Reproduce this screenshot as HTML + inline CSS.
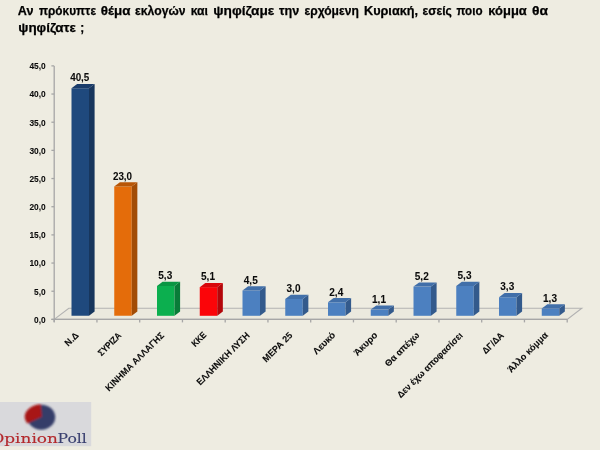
<!DOCTYPE html>
<html lang="el">
<head>
<meta charset="utf-8">
<title>OpinionPoll</title>
<style>
html,body{margin:0;padding:0;background:#EEECE1;}
body{width:600px;height:450px;overflow:hidden;position:relative;font-family:"Liberation Sans",sans-serif;}
svg{position:absolute;left:0;top:0;display:block;}
text{font-family:"Liberation Sans",sans-serif;font-weight:bold;fill:#111;}
.ttl{font-size:13.1px;fill:#000;stroke:#000;stroke-width:0.25px;}
.ax{font-size:8.9px;fill:#0a0a0a;stroke:#0a0a0a;stroke-width:0.05px;}
.val{font-size:10.6px;fill:#0a0a0a;stroke:#0a0a0a;stroke-width:0.05px;}
.cat{font-size:9.2px;fill:#0a0a0a;stroke:#0a0a0a;stroke-width:0.1px;}
.logo{font-family:"DejaVu Serif","Liberation Serif",serif;font-weight:normal;font-size:13.2px;stroke-width:0.12px;}
</style>
</head>
<body>
<svg width="600" height="450" viewBox="0 0 600 450">
<defs><filter id="soft" x="-5%" y="-5%" width="110%" height="110%"><feGaussianBlur stdDeviation="0.8"/></filter></defs>
<rect x="0" y="0" width="600" height="450" fill="#EEECE1"/>
<text class="ttl" y="14.7"><tspan x="17.8" textLength="15.7" lengthAdjust="spacingAndGlyphs">Αν</tspan> <tspan x="39" textLength="57" lengthAdjust="spacingAndGlyphs">πρόκυπτε</tspan> <tspan x="100.8" textLength="29.7" lengthAdjust="spacingAndGlyphs">θέμα</tspan> <tspan x="135" textLength="50.5" lengthAdjust="spacingAndGlyphs">εκλογών</tspan> <tspan x="190.7" textLength="17.3" lengthAdjust="spacingAndGlyphs">και</tspan> <tspan x="213.3" textLength="61" lengthAdjust="spacingAndGlyphs">ψηφίζαμε</tspan> <tspan x="279" textLength="20.3" lengthAdjust="spacingAndGlyphs">την</tspan> <tspan x="304.5" textLength="54.3" lengthAdjust="spacingAndGlyphs">ερχόμενη</tspan> <tspan x="364" textLength="54" lengthAdjust="spacingAndGlyphs">Κυριακή,</tspan> <tspan x="422.5" textLength="29.3" lengthAdjust="spacingAndGlyphs">εσείς</tspan> <tspan x="456.5" textLength="26" lengthAdjust="spacingAndGlyphs">ποιο</tspan> <tspan x="488.3" textLength="38.5" lengthAdjust="spacingAndGlyphs">κόμμα</tspan> <tspan x="532" textLength="16" lengthAdjust="spacingAndGlyphs">θα</tspan></text>
<text class="ttl" y="32.4"><tspan x="18.3" textLength="57.7" lengthAdjust="spacingAndGlyphs">ψηφίζατε</tspan> <tspan x="80.3" textLength="4" lengthAdjust="spacingAndGlyphs">;</tspan></text>
<g>
<g stroke="#A6A6A6" stroke-width="1.3" fill="none">
<path d="M54.2 319.4 L68.8 308.3 L581.8 308.3 L567.2 319.4 Z" fill="#EBE9DE" stroke="#B2B2B2" stroke-width="1.1"/>
<path d="M54.2 66 V322"/>
<path d="M51.4 319.4 H567.2"/>
<path d="M51.4 319.4 H54.2"/>
<path d="M51.4 291.23 H54.2"/>
<path d="M51.4 263.06 H54.2"/>
<path d="M51.4 234.89 H54.2"/>
<path d="M51.4 206.72 H54.2"/>
<path d="M51.4 178.55 H54.2"/>
<path d="M51.4 150.38 H54.2"/>
<path d="M51.4 122.21 H54.2"/>
<path d="M51.4 94.04 H54.2"/>
<path d="M51.4 65.87 H54.2"/>
<path d="M54.2 319.4 V322.4"/>
<path d="M96.95 319.4 V322.4"/>
<path d="M139.7 319.4 V322.4"/>
<path d="M182.45 319.4 V322.4"/>
<path d="M225.2 319.4 V322.4"/>
<path d="M267.95 319.4 V322.4"/>
<path d="M310.7 319.4 V322.4"/>
<path d="M353.45 319.4 V322.4"/>
<path d="M396.2 319.4 V322.4"/>
<path d="M438.95 319.4 V322.4"/>
<path d="M481.7 319.4 V322.4"/>
<path d="M524.45 319.4 V322.4"/>
<path d="M567.2 319.4 V322.4"/>
</g>
<path d="M71.5 88.19 H89 V315.8 H71.5 Z" fill="#1F497D"/><path d="M89 88.19 L94.6 83.99 V311.6 L89 315.8 Z" fill="#17365D"/><path d="M71.5 88.19 L77.1 83.99 H94.6 L89 88.19 Z" fill="#1A3C6A"/>
<path d="M114.25 186.54 H131.75 V315.8 H114.25 Z" fill="#E46C0A"/><path d="M131.75 186.54 L137.35 182.34 V311.6 L131.75 315.8 Z" fill="#A24C06"/><path d="M114.25 186.54 L119.85 182.34 H137.35 L131.75 186.54 Z" fill="#B85607"/>
<path d="M157 286.01 H174.5 V315.8 H157 Z" fill="#0CAF4F"/><path d="M174.5 286.01 L180.1 281.81 V311.6 L174.5 315.8 Z" fill="#087C38"/><path d="M157 286.01 L162.6 281.81 H180.1 L174.5 286.01 Z" fill="#0A9643"/>
<path d="M199.75 287.14 H217.25 V315.8 H199.75 Z" fill="#FB0509"/><path d="M217.25 287.14 L222.85 282.94 V311.6 L217.25 315.8 Z" fill="#B4060A"/><path d="M199.75 287.14 L205.35 282.94 H222.85 L217.25 287.14 Z" fill="#D8070B"/>
<path d="M242.5 290.51 H260 V315.8 H242.5 Z" fill="#4C80C0"/><path d="M260 290.51 L265.6 286.31 V311.6 L260 315.8 Z" fill="#335A8C"/><path d="M242.5 290.51 L248.1 286.31 H265.6 L260 290.51 Z" fill="#416FA9"/>
<path d="M285.25 298.94 H302.75 V315.8 H285.25 Z" fill="#4C80C0"/><path d="M302.75 298.94 L308.35 294.74 V311.6 L302.75 315.8 Z" fill="#335A8C"/><path d="M285.25 298.94 L290.85 294.74 H308.35 L302.75 298.94 Z" fill="#416FA9"/>
<path d="M328 302.31 H345.5 V315.8 H328 Z" fill="#4C80C0"/><path d="M345.5 302.31 L351.1 298.11 V311.6 L345.5 315.8 Z" fill="#335A8C"/><path d="M328 302.31 L333.6 298.11 H351.1 L345.5 302.31 Z" fill="#416FA9"/>
<path d="M370.75 309.62 H388.25 V315.8 H370.75 Z" fill="#4C80C0"/><path d="M388.25 309.62 L393.85 305.42 V311.6 L388.25 315.8 Z" fill="#335A8C"/><path d="M370.75 309.62 L376.35 305.42 H393.85 L388.25 309.62 Z" fill="#416FA9"/>
<path d="M413.5 286.58 H431 V315.8 H413.5 Z" fill="#4C80C0"/><path d="M431 286.58 L436.6 282.38 V311.6 L431 315.8 Z" fill="#335A8C"/><path d="M413.5 286.58 L419.1 282.38 H436.6 L431 286.58 Z" fill="#416FA9"/>
<path d="M456.25 286.01 H473.75 V315.8 H456.25 Z" fill="#4C80C0"/><path d="M473.75 286.01 L479.35 281.81 V311.6 L473.75 315.8 Z" fill="#335A8C"/><path d="M456.25 286.01 L461.85 281.81 H479.35 L473.75 286.01 Z" fill="#416FA9"/>
<path d="M499 297.25 H516.5 V315.8 H499 Z" fill="#4C80C0"/><path d="M516.5 297.25 L522.1 293.05 V311.6 L516.5 315.8 Z" fill="#335A8C"/><path d="M499 297.25 L504.6 293.05 H522.1 L516.5 297.25 Z" fill="#416FA9"/>
<path d="M541.75 308.49 H559.25 V315.8 H541.75 Z" fill="#4C80C0"/><path d="M559.25 308.49 L564.85 304.29 V311.6 L559.25 315.8 Z" fill="#335A8C"/><path d="M541.75 308.49 L547.35 304.29 H564.85 L559.25 308.49 Z" fill="#416FA9"/>
</g>
<text class="ax" x="45.7" y="322.8" text-anchor="end" textLength="11.6" lengthAdjust="spacingAndGlyphs">0,0</text>
<text class="ax" x="45.7" y="294.63" text-anchor="end" textLength="11.6" lengthAdjust="spacingAndGlyphs">5,0</text>
<text class="ax" x="45.7" y="266.46" text-anchor="end" textLength="16.3" lengthAdjust="spacingAndGlyphs">10,0</text>
<text class="ax" x="45.7" y="238.29" text-anchor="end" textLength="16.3" lengthAdjust="spacingAndGlyphs">15,0</text>
<text class="ax" x="45.7" y="210.12" text-anchor="end" textLength="16.3" lengthAdjust="spacingAndGlyphs">20,0</text>
<text class="ax" x="45.7" y="181.95" text-anchor="end" textLength="16.3" lengthAdjust="spacingAndGlyphs">25,0</text>
<text class="ax" x="45.7" y="153.78" text-anchor="end" textLength="16.3" lengthAdjust="spacingAndGlyphs">30,0</text>
<text class="ax" x="45.7" y="125.61" text-anchor="end" textLength="16.3" lengthAdjust="spacingAndGlyphs">35,0</text>
<text class="ax" x="45.7" y="97.44" text-anchor="end" textLength="16.3" lengthAdjust="spacingAndGlyphs">40,0</text>
<text class="ax" x="45.7" y="69.27" text-anchor="end" textLength="16.3" lengthAdjust="spacingAndGlyphs">45,0</text>
<text class="val" x="79.75" y="81.39" text-anchor="middle" textLength="19.2" lengthAdjust="spacingAndGlyphs">40,5</text>
<text class="val" x="122.5" y="179.74" text-anchor="middle" textLength="19.2" lengthAdjust="spacingAndGlyphs">23,0</text>
<text class="val" x="165.25" y="279.21" text-anchor="middle" textLength="14" lengthAdjust="spacingAndGlyphs">5,3</text>
<text class="val" x="208" y="280.34" text-anchor="middle" textLength="14" lengthAdjust="spacingAndGlyphs">5,1</text>
<text class="val" x="250.75" y="283.71" text-anchor="middle" textLength="14" lengthAdjust="spacingAndGlyphs">4,5</text>
<text class="val" x="293.5" y="292.14" text-anchor="middle" textLength="14" lengthAdjust="spacingAndGlyphs">3,0</text>
<text class="val" x="336.25" y="295.51" text-anchor="middle" textLength="14" lengthAdjust="spacingAndGlyphs">2,4</text>
<text class="val" x="379" y="302.82" text-anchor="middle" textLength="14" lengthAdjust="spacingAndGlyphs">1,1</text>
<text class="val" x="421.75" y="279.78" text-anchor="middle" textLength="14" lengthAdjust="spacingAndGlyphs">5,2</text>
<text class="val" x="464.5" y="279.21" text-anchor="middle" textLength="14" lengthAdjust="spacingAndGlyphs">5,3</text>
<text class="val" x="507.25" y="290.45" text-anchor="middle" textLength="14" lengthAdjust="spacingAndGlyphs">3,3</text>
<text class="val" x="550" y="301.69" text-anchor="middle" textLength="14" lengthAdjust="spacingAndGlyphs">1,3</text>
<text class="cat" transform="translate(79.17 336) rotate(-45)" text-anchor="end" textLength="15.3" lengthAdjust="spacingAndGlyphs">Ν.Δ</text>
<text class="cat" transform="translate(121.92 336) rotate(-45)" text-anchor="end" textLength="28.9" lengthAdjust="spacingAndGlyphs">ΣΥΡΙΖΑ</text>
<text class="cat" transform="translate(164.67 336) rotate(-45)" text-anchor="end" textLength="78.7" lengthAdjust="spacingAndGlyphs">ΚΙΝΗΜΑ ΑΛΛΑΓΗΣ</text>
<text class="cat" transform="translate(206.92 335.5) rotate(-45)" text-anchor="end" textLength="16.5" lengthAdjust="spacingAndGlyphs">ΚΚΕ</text>
<text class="cat" transform="translate(250.17 336) rotate(-45)" text-anchor="end" textLength="70.5" lengthAdjust="spacingAndGlyphs">ΕΛΛΗΝΙΚΗ ΛΥΣΗ</text>
<text class="cat" transform="translate(292.93 336) rotate(-45)" text-anchor="end" textLength="37.7" lengthAdjust="spacingAndGlyphs">ΜΕΡΑ 25</text>
<text class="cat" transform="translate(335.98 335.7) rotate(-45)" text-anchor="end" textLength="27.4" lengthAdjust="spacingAndGlyphs">Λευκό</text>
<text class="cat" transform="translate(378.12 335.7) rotate(-45)" text-anchor="end" textLength="29.2" lengthAdjust="spacingAndGlyphs">Άκυρο</text>
<text class="cat" transform="translate(419.98 335.7) rotate(-45)" text-anchor="end" textLength="44.7" lengthAdjust="spacingAndGlyphs">Θα απέχω</text>
<text class="cat" transform="translate(463.32 336) rotate(-45)" text-anchor="end" textLength="88.5" lengthAdjust="spacingAndGlyphs">Δεν έχω αποφασίσει</text>
<text class="cat" transform="translate(504.38 336) rotate(-45)" text-anchor="end" textLength="26.2" lengthAdjust="spacingAndGlyphs">ΔΓ/ΔΑ</text>
<text class="cat" transform="translate(548.43 335.8) rotate(-45)" text-anchor="end" textLength="52.5" lengthAdjust="spacingAndGlyphs">Άλλο κόμμα</text>
<rect x="0" y="402" width="91.2" height="44.2" fill="#D9D9DC"/>
<g filter="url(#soft)">
<ellipse cx="41.2" cy="417.2" rx="14" ry="12.5" fill="#343C69"/>
<path d="M41.8 416.7 L40.8 404.3 A16.7 12.5 0 0 0 27.2 423.4 Z" fill="#A81515"/>
</g>
<text class="logo" y="443"><tspan x="-9.6" textLength="67.5" lengthAdjust="spacingAndGlyphs" style="fill:#B3282C;stroke:#B3282C">Opinion</tspan><tspan x="57.6" textLength="29.2" lengthAdjust="spacingAndGlyphs" style="fill:#3A4070;stroke:#3A4070">Poll</tspan></text>
</svg>
</body>
</html>
